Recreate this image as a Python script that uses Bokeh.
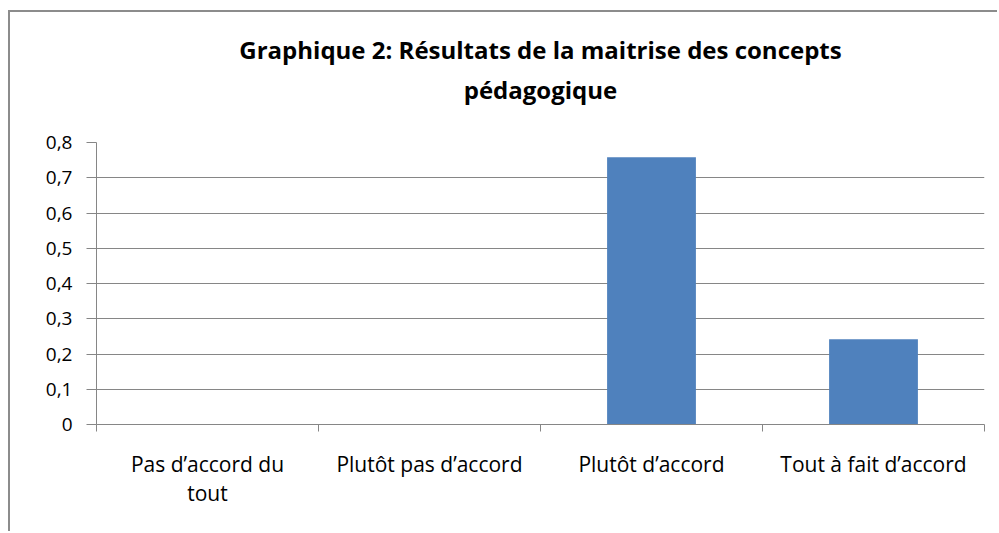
from bokeh.plotting import figure
from bokeh.models import FixedTicker, Range1d, Title
from bokeh.embed import file_html
from bokeh.resources import INLINE

categories = ["Pas d\u2019accord du\ntout", "Plut\u00f4t pas d\u2019accord", "Plut\u00f4t d\u2019accord", "Tout \u00e0 fait d\u2019accord"]
values = [0.0, 0.0, 0.758, 0.242]
y_ticks = [0, 0.1, 0.2, 0.3, 0.4, 0.5, 0.6, 0.7, 0.8]
y_labels = ["0", "0,1", "0,2", "0,3", "0,4", "0,5", "0,6", "0,7", "0,8"]
title_line1 = "Graphique 2: R\u00e9sultats de la maitrise des concepts"
title_line2 = "p\u00e9dagogique"

FONT = "Open Sans"
GRAY = "#868686"

positions = [i + 0.5 for i in range(len(categories))]
boundaries = list(range(len(categories) + 1))

p = figure(width=989, height=521, output_backend="svg", toolbar_location=None,
           x_range=Range1d(0, len(categories)), y_range=Range1d(0, 0.8),
           title=None,
           min_border_left=86, min_border_right=15, min_border_top=130, min_border_bottom=109)
p.styles = {"border-left": "2px solid #8c8c8c", "border-top": "2px solid #8c8c8c",
            "margin-left": "8px", "margin-top": "10px"}

p.vbar(x=positions, top=values, width=0.4, color="#4f81bd", line_color=None)

t2 = Title(text=title_line2, align="center", text_font=FONT, text_font_size="24px",
           text_font_style="bold", text_color="#000000", offset=-10, standoff=73)
t1 = Title(text=title_line1, align="center", text_font=FONT, text_font_size="24px",
           text_font_style="bold", text_color="#000000", offset=-10, standoff=-62)
p.add_layout(t2, "above")
p.add_layout(t1, "above")

p.outline_line_color = None
p.background_fill_color = "white"
p.border_fill_color = "white"

# x axis
p.xaxis.ticker = FixedTicker(ticks=positions, minor_ticks=boundaries)
p.xaxis.major_label_overrides = {pos: lab for pos, lab in zip(positions, categories)}
p.xaxis.major_tick_out = 0
p.xaxis.major_tick_in = 0
p.xaxis.minor_tick_out = 7
p.xaxis.minor_tick_in = 0
p.xaxis.minor_tick_line_color = GRAY
p.xaxis.axis_line_color = GRAY
p.xaxis.major_label_text_font = FONT
p.xaxis.major_label_text_font_size = "21px"
p.xaxis.major_label_text_color = "#000000"
p.xaxis.major_label_standoff = 18
p.xaxis.major_label_text_line_height = 1.05

# y axis
p.yaxis.ticker = FixedTicker(ticks=y_ticks)
p.yaxis.major_label_overrides = {t: l for t, l in zip(y_ticks, y_labels)}
p.yaxis.major_tick_out = 10
p.yaxis.major_tick_in = 0
p.yaxis.minor_tick_line_color = None
p.yaxis.major_tick_line_color = GRAY
p.yaxis.axis_line_color = GRAY
p.yaxis.major_label_text_font = FONT
p.yaxis.major_label_text_font_size = "19px"
p.yaxis.major_label_text_color = "#000000"
p.yaxis.major_label_standoff = 14

p.xgrid.grid_line_color = None
p.ygrid.grid_line_color = GRAY
p.ygrid.grid_line_width = 1

open("out.html", "w").write(file_html(p, INLINE))
